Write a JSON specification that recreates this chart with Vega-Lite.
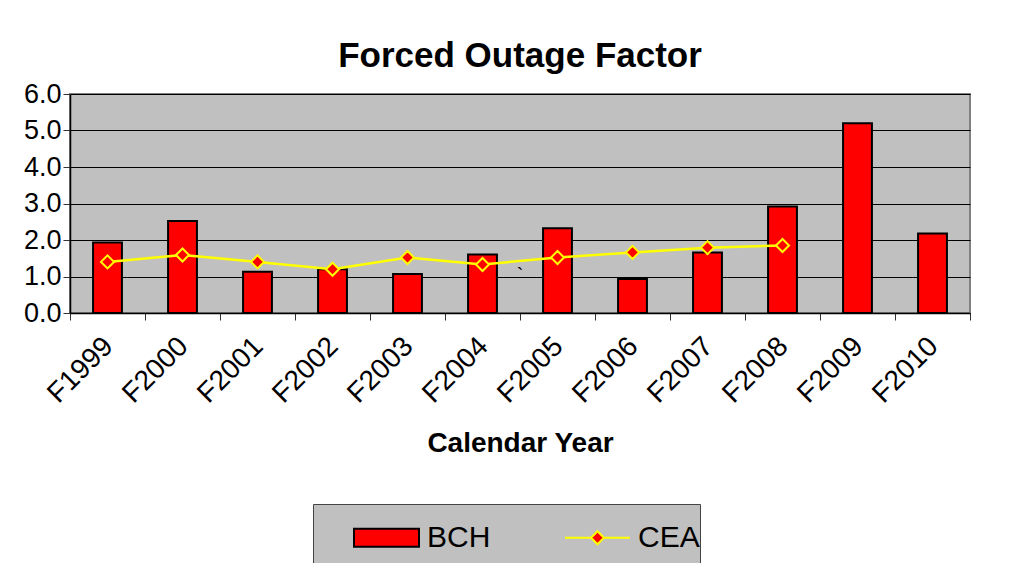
{
  "$schema": "https://vega.github.io/schema/vega-lite/v6.json",
  "width": 900,
  "height": 219,
  "autosize": {"type": "none"},
  "padding": {"left": 70, "top": 94, "right": 60, "bottom": 250},
  "background": "white",
  "config": {
    "font": "Liberation Sans",
    "view": {"fill": "#c0c0c0", "stroke": "#808080", "strokeWidth": 2}
  },
  "title": {
    "text": "Forced Outage Factor",
    "font": "Liberation Sans",
    "fontSize": 35,
    "fontWeight": "bold",
    "color": "#000000",
    "anchor": "middle",
    "frame": "group",
    "baseline": "alphabetic",
    "offset": -22
  },
  "data": {
    "values": [
      {"year": "F1999", "series": "BCH", "value": 1.93},
      {"year": "F2000", "series": "BCH", "value": 2.52},
      {"year": "F2001", "series": "BCH", "value": 1.13},
      {"year": "F2002", "series": "BCH", "value": 1.2},
      {"year": "F2003", "series": "BCH", "value": 1.07},
      {"year": "F2004", "series": "BCH", "value": 1.6},
      {"year": "F2005", "series": "BCH", "value": 2.32},
      {"year": "F2006", "series": "BCH", "value": 0.93},
      {"year": "F2007", "series": "BCH", "value": 1.66},
      {"year": "F2008", "series": "BCH", "value": 2.92},
      {"year": "F2009", "series": "BCH", "value": 5.2},
      {"year": "F2010", "series": "BCH", "value": 2.18},
      {"year": "F1999", "series": "CEA", "value": 1.4},
      {"year": "F2000", "series": "CEA", "value": 1.59},
      {"year": "F2001", "series": "CEA", "value": 1.4},
      {"year": "F2002", "series": "CEA", "value": 1.2},
      {"year": "F2003", "series": "CEA", "value": 1.52},
      {"year": "F2004", "series": "CEA", "value": 1.33},
      {"year": "F2005", "series": "CEA", "value": 1.52},
      {"year": "F2006", "series": "CEA", "value": 1.66},
      {"year": "F2007", "series": "CEA", "value": 1.79},
      {"year": "F2008", "series": "CEA", "value": 1.85}
    ]
  },
  "encoding": {
    "x": {
      "field": "year",
      "type": "nominal",
      "sort": null,
      "scale": {"type": "band", "paddingInner": 0, "paddingOuter": 0},
      "axis": {
        "title": "Calendar Year",
        "titleFontSize": 28,
        "titleFontWeight": "bold",
        "titleColor": "#000000",
        "titleBaseline": "alphabetic",
        "titleY": 138,
        "labelAngle": -45,
        "labelFontSize": 28,
        "labelColor": "#000000",
        "labelPadding": 12,
        "labelOffset": -9,
        "tickBand": "extent",
        "tickSize": 7,
        "tickColor": "#333333",
        "domainColor": "#000000",
        "domainWidth": 1.5,
        "grid": false
      }
    },
    "y": {
      "field": "value",
      "type": "quantitative",
      "scale": {"domain": [0, 6], "nice": false},
      "axis": {
        "title": null,
        "values": [0, 1, 2, 3, 4, 5, 6],
        "format": ".1f",
        "labelFontSize": 27,
        "labelColor": "#000000",
        "labelPadding": 2,
        "tickSize": 7,
        "tickColor": "#333333",
        "domainColor": "#000000",
        "domainWidth": 1.5,
        "grid": true,
        "gridColor": "#000000",
        "gridWidth": 1
      }
    },
    "stroke": {
      "field": "series",
      "type": "nominal",
      "scale": {"domain": ["BCH", "CEA"], "range": ["#000000", "#ffff00"]},
      "legend": {
        "title": " ",
        "titleOrient": "bottom",
        "titleFontSize": 10,
        "titlePadding": 8,
        "orient": "none",
        "direction": "horizontal",
        "legendX": 243,
        "legendY": 410,
        "padding": 0,
        "fillColor": "#c0c0c0",
        "strokeColor": "#444444",
        "labelFont": "Liberation Sans",
        "labelFontSize": 30,
        "labelColor": "#000000",
        "labelOffset": 7,
        "symbolOffset": 40,
        "columnPadding": 33,
        "symbolSize": 4225,
        "symbolStrokeWidth": 2,
        "encode": {
          "symbols": {
            "update": {
              "shape": [
                {"test": "datum.value === 'BCH'", "value": "M-1,-0.28H1V0.28H-1Z"},
                {"value": "M-1,0H-0.2M0.2,0H1M0,-0.2L0.2,0L0,0.2L-0.2,0Z"}
              ],
              "fill": {"value": "#ff0000"},
              "strokeWidth": {"value": 2},
              "opacity": {"value": 1}
            }
          }
        }
      }
    }
  },
  "layer": [
    {
      "transform": [{"filter": "datum.series === 'BCH'"}],
      "mark": {"type": "bar", "fill": "#ff0000", "strokeWidth": 2, "width": {"band": 0.385}}
    },
    {
      "transform": [{"filter": "datum.series === 'CEA'"}],
      "mark": {"type": "line", "strokeWidth": 2.5}
    },
    {
      "transform": [{"filter": "datum.series === 'CEA'"}],
      "mark": {"type": "point", "shape": "diamond", "filled": true, "fill": "#ff0000", "size": 170, "strokeWidth": 2, "opacity": 1}
    },
    {
      "data": {"values": [{"year": "F2005", "note": "`", "pos": 0.86}]},
      "mark": {"type": "text", "fontSize": 20, "baseline": "alphabetic", "color": "#000000"},
      "encoding": {
        "x": {"field": "year", "type": "nominal", "bandPosition": 0},
        "y": {"field": "pos", "type": "quantitative"},
        "text": {"field": "note"},
        "stroke": null
      }
    }
  ]
}
